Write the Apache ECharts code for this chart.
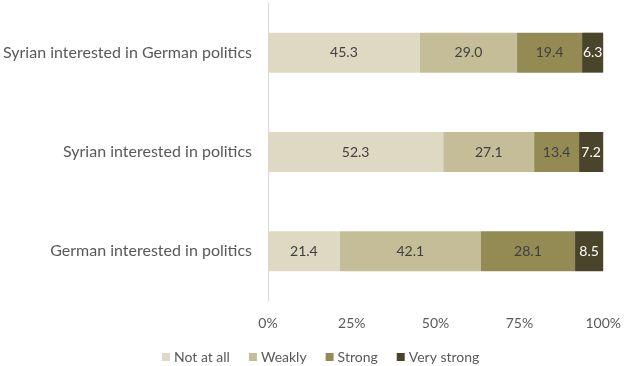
<!DOCTYPE html>
<html>
<head>
<meta charset="utf-8">
<script src="https://cdn.jsdelivr.net/npm/echarts@6/dist/echarts.min.js"></script>
<style>
  html, body { margin: 0; padding: 0; background: #fff; }
  #chart { width: 624px; height: 366px; }
</style>
</head>
<body>
<div id="chart"></div>
<script>
// categories from bottom to top (category axis runs upward)
const categories = [
  "German interested in politics",
  "Syrian interested in politics",
  "Syrian interested in German politics",
];
const seriesNames = ["Not at all", "Weakly", "Strong", "Very strong"];
const notAtAll = [21.4, 52.3, 45.3];
const weakly = [42.1, 27.1, 29.0];
const strong = [28.1, 13.4, 19.4];
const veryStrong = [8.5, 7.2, 6.3];
const xTicks = [0, 25, 50, 75, 100];

const colors = ["#ddd9c3", "#c4bd97", "#948a54", "#4a452a"];
const labelColors = ["#404040", "#404040", "#404040", "#ffffff"];
const values = [notAtAll, weakly, strong, veryStrong];
const font = "Lato, 'Open Sans', sans-serif";

const chart = echarts.init(document.getElementById("chart"));
chart.setOption({
  animation: false,
  textStyle: { fontFamily: font },
  grid: { left: 268, right: 20, top: 3, bottom: 65 },
  legend: {
    bottom: 2,
    left: 162,
    padding: 0,
    itemWidth: 8,
    itemHeight: 8,
    itemGap: 19,
    icon: "rect",
    textStyle: { color: "#595959", fontSize: 14, fontFamily: font, padding: [0, 0, 0, -1] },
    data: seriesNames,
  },
  xAxis: {
    type: "value",
    min: xTicks[0],
    max: xTicks[xTicks.length - 1],
    interval: 25,
    splitLine: { show: false },
    axisLine: { show: false },
    axisTick: { show: false },
    axisLabel: { color: "#595959", fontSize: 14, margin: 15, formatter: (v) => v + "%" },
  },
  yAxis: {
    type: "category",
    data: categories,
    axisLine: { show: true, lineStyle: { color: "#d9d9d9", width: 1 } },
    axisTick: { show: false },
    axisLabel: { color: "#595959", fontSize: 16, margin: 16 },
  },
  series: seriesNames.map((name, i) => ({
    name,
    type: "bar",
    stack: "total",
    barWidth: 40,
    data: values[i],
    itemStyle: { color: colors[i] },
    label: {
      show: true,
      position: "inside",
      color: labelColors[i],
      fontSize: 14,
      fontFamily: font,
      formatter: (p) => p.value.toFixed(1),
    },
  })),
});
</script>
</body>
</html>
